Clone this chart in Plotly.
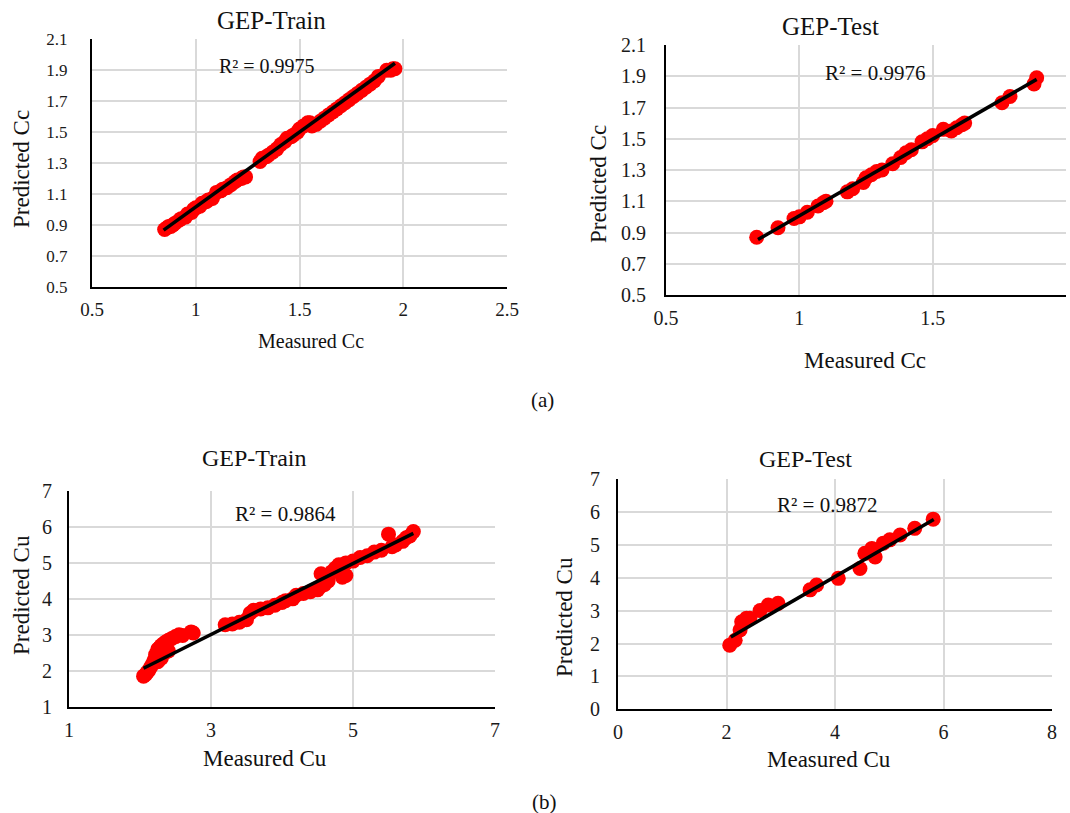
import plotly.graph_objects as go

# ---------------- data ----------------
# (a) Cc - training set
cc_train_measured = [0.85, 0.86, 0.87, 0.88, 0.89, 0.90, 0.92, 0.93, 0.95, 0.96, 0.98, 0.99, 1.00, 1.02,
                     1.03, 1.05, 1.06, 1.08, 1.10, 1.12, 1.13, 1.15, 1.17, 1.19, 1.20, 1.22, 1.23, 1.24,
                     1.31, 1.32, 1.34, 1.35, 1.37, 1.39, 1.41, 1.43, 1.44, 1.46, 1.47, 1.49, 1.50, 1.52,
                     1.54, 1.55, 1.56, 1.58, 1.60, 1.62, 1.64, 1.66, 1.68, 1.70, 1.72, 1.74, 1.76, 1.78,
                     1.80, 1.82, 1.84, 1.86, 1.88, 1.92, 1.94, 1.95, 1.96]
cc_train_predicted = [0.87, 0.88, 0.89, 0.89, 0.90, 0.91, 0.93, 0.94, 0.95, 0.97, 0.98, 1.00, 1.01, 1.02,
                      1.04, 1.05, 1.06, 1.07, 1.11, 1.12, 1.13, 1.14, 1.16, 1.18, 1.19, 1.20, 1.21, 1.21,
                      1.31, 1.33, 1.34, 1.35, 1.37, 1.39, 1.42, 1.44, 1.46, 1.47, 1.48, 1.50, 1.52, 1.54,
                      1.56, 1.56, 1.54, 1.55, 1.57, 1.59, 1.61, 1.63, 1.65, 1.67, 1.69, 1.71, 1.73, 1.75,
                      1.77, 1.79, 1.81, 1.83, 1.86, 1.90, 1.90, 1.91, 1.91]
cc_train_fit_x = [0.845, 1.96]
cc_train_fit_y = [0.866, 1.945]

# (a) Cc - testing set
cc_test_measured = [0.84, 0.92, 0.98, 1.00, 1.03, 1.07, 1.09, 1.10, 1.18, 1.20, 1.24, 1.25, 1.27, 1.29,
                    1.31, 1.35, 1.38, 1.40, 1.42, 1.46, 1.48, 1.50, 1.54, 1.57, 1.59, 1.61, 1.62, 1.76,
                    1.79, 1.88, 1.89]
cc_test_predicted = [0.87, 0.93, 0.99, 1.00, 1.03, 1.07, 1.09, 1.10, 1.16, 1.18, 1.22, 1.25, 1.27, 1.29,
                     1.30, 1.34, 1.38, 1.41, 1.43, 1.48, 1.50, 1.52, 1.56, 1.55, 1.57, 1.59, 1.60, 1.73,
                     1.77, 1.85, 1.89]
cc_test_fit_x = [0.845, 1.89]
cc_test_fit_y = [0.855, 1.88]

# (b) Cu - training set
cu_train_measured = [2.05, 2.08, 2.10, 2.12, 2.15, 2.18, 2.20, 2.22, 2.25, 2.28, 2.30, 2.33, 2.36, 2.40,
                     2.45, 2.50, 2.55, 2.60, 2.72, 2.75, 2.25, 2.30, 2.35, 2.40,
                     3.20, 3.30, 3.40, 3.50, 3.55, 3.60, 3.70, 3.80, 3.90, 4.00, 4.05, 4.15, 4.20, 4.30,
                     4.40, 4.50, 4.55, 4.55, 4.60, 4.65, 4.70, 4.75, 4.80, 4.85, 4.90, 4.90, 5.00, 5.10,
                     5.20, 5.30, 5.40, 5.50, 5.55, 5.60, 5.70, 5.75, 5.80, 5.85]
cu_train_predicted = [1.85, 1.90, 1.95, 2.00, 2.10, 2.20, 2.30, 2.45, 2.60, 2.65, 2.70, 2.75, 2.80, 2.85,
                      2.90, 2.95, 3.00, 2.98, 3.08, 3.05, 2.25, 2.35, 2.50, 2.55,
                      3.28, 3.30, 3.35, 3.42, 3.60, 3.68, 3.72, 3.75, 3.82, 3.90, 3.95, 4.00, 4.10, 4.15,
                      4.20, 4.25, 4.35, 4.70, 4.40, 4.50, 4.75, 4.85, 4.95, 4.60, 4.65, 5.00, 5.05, 5.15,
                      5.20, 5.30, 5.35, 5.80, 5.45, 5.50, 5.60, 5.70, 5.75, 5.87]
cu_train_fit_x = [2.05, 5.85]
cu_train_fit_y = [2.07, 5.82]

# (b) Cu - testing set
cu_test_measured = [2.06, 2.16, 2.25, 2.28, 2.37, 2.43, 2.62, 2.77, 2.95, 3.54, 3.66, 4.06, 4.46, 4.55,
                    4.68, 4.74, 4.89, 5.01, 5.20, 5.47, 5.81]
cu_test_predicted = [1.95, 2.10, 2.41, 2.66, 2.77, 2.77, 3.00, 3.17, 3.22, 3.63, 3.78, 3.98, 4.28, 4.74,
                     4.89, 4.63, 5.05, 5.15, 5.30, 5.50, 5.78]
cu_test_fit_x = [2.08, 5.82]
cu_test_fit_y = [2.20, 5.77]

# ticks
cc_train_xticks = [0.5, 1, 1.5, 2, 2.5]
cc_train_xlabels = ["0.5", "1", "1.5", "2", "2.5"]
cc_test_xticks = [0.5, 1, 1.5, 2]
cc_test_xlabels = ["0.5", "1", "1.5", "2"]
cc_yticks = [0.5, 0.7, 0.9, 1.1, 1.3, 1.5, 1.7, 1.9, 2.1]
cc_ylabels = ["0.5", "0.7", "0.9", "1.1", "1.3", "1.5", "1.7", "1.9", "2.1"]
cu_train_xticks = [1, 3, 5, 7]
cu_train_yticks = [1, 2, 3, 4, 5, 6, 7]
cu_test_xticks = [0, 2, 4, 6, 8]
cu_test_yticks = [0, 1, 2, 3, 4, 5, 6, 7]

r2_labels = ["R² = 0.9975", "R² = 0.9976", "R² = 0.9864", "R² = 0.9872"]
titles = ["GEP-Train", "GEP-Test", "GEP-Train", "GEP-Test"]

# ---------------- layout helpers ----------------
W, H = 1070, 813
FONT = "Liberation Serif, Times New Roman, serif"
RED = "#ff0000"
GRID = "#d9d9d9"
TICK_COLOR = "#1a1a1a"


def px(x):
    return x / W


def py(y):
    return 1 - y / H


fig = go.Figure()

panels = [
    dict(mx=cc_train_measured, my=cc_train_predicted, fx=cc_train_fit_x, fy=cc_train_fit_y,
         dom_x=(92, 507), dom_y=(39.3, 286.7), xr=[0.5, 2.5], yr=[0.5, 2.1],
         xt=cc_train_xticks, xl=cc_train_xlabels, yt=cc_yticks, yl=cc_ylabels,
         xsize=19, ysize=17, ystand=19),
    dict(mx=cc_test_measured, my=cc_test_predicted, fx=cc_test_fit_x, fy=cc_test_fit_y,
         dom_x=(666, 1066), dom_y=(45, 295), xr=[0.5, 2.0], yr=[0.5, 2.1],
         xt=cc_test_xticks, xl=cc_test_xlabels, yt=cc_yticks, yl=cc_ylabels,
         xsize=20, ysize=20, ystand=14),
    dict(mx=cu_train_measured, my=cu_train_predicted, fx=cu_train_fit_x, fy=cu_train_fit_y,
         dom_x=(69, 495), dom_y=(491, 706.7), xr=[1, 7], yr=[1, 7],
         xt=cu_train_xticks, xl=[str(v) for v in cu_train_xticks],
         yt=cu_train_yticks, yl=[str(v) for v in cu_train_yticks],
         xsize=20, ysize=20, ystand=11),
    dict(mx=cu_test_measured, my=cu_test_predicted, fx=cu_test_fit_x, fy=cu_test_fit_y,
         dom_x=(618, 1052), dom_y=(479, 709.3), xr=[0, 8], yr=[0, 7],
         xt=cu_test_xticks, xl=[str(v) for v in cu_test_xticks],
         yt=cu_test_yticks, yl=[str(v) for v in cu_test_yticks],
         xsize=20, ysize=20, ystand=12),
]

layout_axes = {}
for i, p in enumerate(panels, start=1):
    xa = "x" if i == 1 else f"x{i}"
    ya = "y" if i == 1 else f"y{i}"
    fig.add_trace(go.Scatter(x=p["mx"], y=p["my"], mode="markers", xaxis=xa, yaxis=ya,
                             marker=dict(color=RED, size=15, line=dict(width=0)),
                             showlegend=False, hoverinfo="x+y", cliponaxis=False))
    fig.add_trace(go.Scatter(x=p["fx"], y=p["fy"], mode="lines", xaxis=xa, yaxis=ya,
                             line=dict(color="black", width=3.5), showlegend=False))
    xkey = "xaxis" if i == 1 else f"xaxis{i}"
    ykey = "yaxis" if i == 1 else f"yaxis{i}"
    layout_axes[xkey] = dict(
        domain=[px(p["dom_x"][0]), px(p["dom_x"][1])], range=p["xr"], anchor=ya,
        tickmode="array", tickvals=p["xt"], ticktext=p["xl"], automargin=False,
        showgrid=True, gridcolor=GRID, gridwidth=2, zeroline=False,
        showline=True, linecolor="black", linewidth=2, ticks="", ticklabelstandoff=4,
        tickfont=dict(family=FONT, size=p["xsize"], color=TICK_COLOR))
    layout_axes[ykey] = dict(
        domain=[py(p["dom_y"][1]), py(p["dom_y"][0])], range=p["yr"], anchor=xa,
        tickmode="array", tickvals=p["yt"], ticktext=p["yl"], automargin=False,
        showgrid=True, gridcolor=GRID, gridwidth=2, zeroline=False,
        showline=True, linecolor="black", linewidth=2, ticks="", ticklabelstandoff=p["ystand"],
        tickfont=dict(family=FONT, size=p["ysize"], color=TICK_COLOR))

fig.update_layout(**layout_axes)

annotations = []


def txt(text, x, y, size, angle=0):
    annotations.append(dict(text=text, x=px(x), y=py(y), xref="paper", yref="paper",
                            xanchor="center", yanchor="middle", showarrow=False, textangle=angle,
                            font=dict(family=FONT, size=size, color="#111111")))


# titles
txt(titles[0], 271, 21, 25)
txt(titles[1], 830, 26, 25)
txt(titles[2], 254, 458, 24)
txt(titles[3], 805, 459, 24)
# R2 labels
txt(r2_labels[0], 267, 66, 20)
txt(r2_labels[1], 875, 73, 21)
txt(r2_labels[2], 285, 514, 21)
txt(r2_labels[3], 827, 505, 21)
# axis titles
txt("Measured Cc", 311, 341, 20)
txt("Predicted Cc", 22, 169, 23, -90)
txt("Measured Cc", 865, 360, 23)
txt("Predicted Cc", 598, 184, 23, -90)
txt("Measured Cu", 265, 758, 23)
txt("Predicted Cu", 21, 595, 23, -90)
txt("Measured Cu", 829, 759, 23)
txt("Predicted Cu", 564, 617, 23, -90)
# panel labels
txt("(a)", 542, 400, 21)
txt("(b)", 544, 802, 21)

fig.update_layout(width=W, height=H, margin=dict(l=0, r=0, t=0, b=0),
                  paper_bgcolor="white", plot_bgcolor="white",
                  annotations=annotations, showlegend=False)

fig.write_html("out.html", config={"displayModeBar": False},
               post_script="document.body.style.margin='0';document.body.style.overflow='hidden';")
